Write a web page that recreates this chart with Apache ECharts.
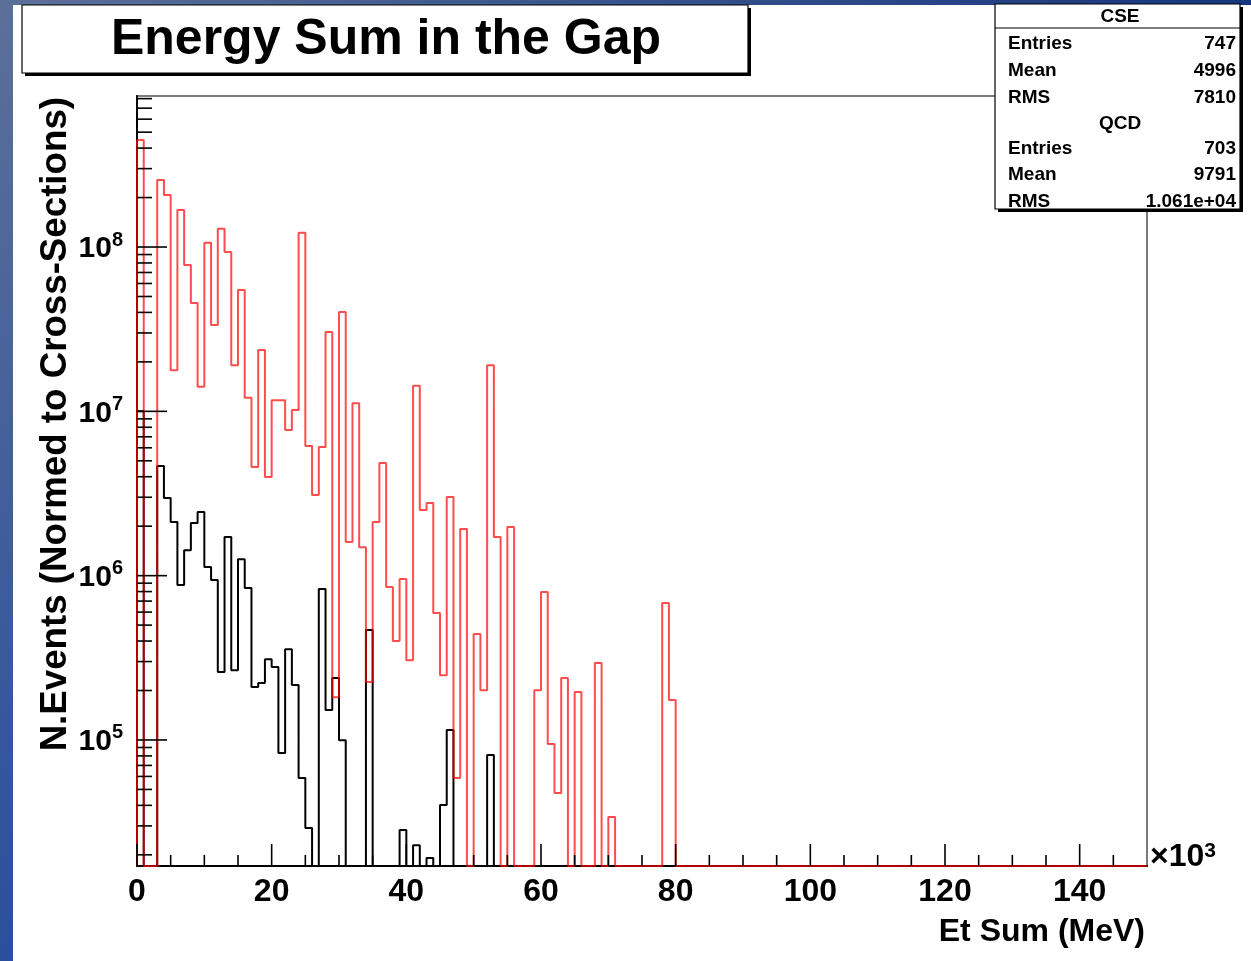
<!DOCTYPE html>
<html><head><meta charset="utf-8">
<script src="https://cdn.jsdelivr.net/npm/echarts@6/dist/echarts.min.js"></script>
<style>html,body{margin:0;padding:0;background:#fff;overflow:hidden}#c{width:1251px;height:961px}</style>
</head><body><div id="c"></div>
<script>
// ---------------- data ----------------
const nBins = 150;          // histogram bins, 1 bin = 1 (x10^3 MeV)
const binWidth = 1;
const yMin = 1.71e4, yMax = 8.3e8;
// bin contents (null = empty bin); bins beyond the arrays are empty
const cseValues = [
 4.48e8, null, null, 2.56e8, 2.07e8, 1.78e7, 1.68e8, 7.76e7, 4.56e7, 1.41e7,
 1.06e8, 3.35e7, 1.29e8, 9.33e7, 1.91e7, 5.47e7, 1.21e7, 4.58e6, 2.36e7, 3.98e6,
 1.17e7, 1.17e7, 7.69e6, 1.02e7, 1.22e8, 6.15e6, 3.10e6, 6.07e6, 3.04e7, 1.82e5,
 4.02e7, 1.60e6, 1.12e7, 1.49e6, 2.25e5, 2.12e6, 4.84e6, 8.53e5, 4.00e5, 9.53e5,
 3.06e5, 1.43e7, 2.51e6, 2.77e6, 5.92e5, 2.48e5, 3.01e6, 5.86e4, 1.92e6, null,
 4.41e5, 2.01e5, 1.91e7, 1.72e6, null, 1.98e6, null, null, null, 2.01e5,
 7.95e5, 9.45e4, 4.75e4, 2.38e5, null, 1.96e5, null, null, 2.94e5, null,
 3.40e4, null, null, null, null, null, null, null, 6.81e5, 1.75e5
];
const qcdValues = [
 1.0e7, null, null, 4.65e6, 2.97e6, 2.12e6, 8.77e5, 1.43e6, 2.09e6, 2.44e6,
 1.13e6, 9.40e5, 2.59e5, 1.72e6, 2.66e5, 1.26e6, 8.41e5, 2.10e5, 2.22e5, 3.10e5,
 2.78e5, 8.32e4, 3.57e5, 2.16e5, 5.86e4, 2.91e4, null, 8.29e5, 1.52e5, 2.38e5,
 9.97e4, null, null, null, 4.67e5, null, null, null, null, 2.83e4,
 null, 2.29e4, null, 1.91e4, null, 4.02e4, 1.15e5, null, null, null,
 null, null, 8.09e4
];
const xLabels = ['0','20','40','60','80','100','120','140'];
const xMajorTicks = [0,20,40,60,80,100,120,140];
const xMinorTicks = [5,10,15,25,30,35,45,50,55,65,70,75,85,90,95,105,110,115,125,130,135,145];
const yMajorTicks = [1e5,1e6,1e7,1e8];
const yMinorTicks = [2e4,3e4,4e4,5e4,6e4,7e4,8e4,9e4,
  2e5,3e5,4e5,5e5,6e5,7e5,8e5,9e5, 2e6,3e6,4e6,5e6,6e6,7e6,8e6,9e6,
  2e7,3e7,4e7,5e7,6e7,7e7,8e7,9e7, 2e8,3e8,4e8,5e8,6e8,7e8,8e8];
const titleText = 'Energy Sum in the Gap';
const xTitle = 'Et Sum (MeV)';
const yTitle = 'N.Events (Normed to Cross-Sections)';
const statRows = ['Entries','Mean','RMS'];
const cseStats = ['747','4996','7810'];
const qcdStats = ['703','9791','1.061e+04'];

// --------------- helpers ---------------
function stepPoints(vals){
  const pts = [[0, yMin]];
  for (let i = 0; i < nBins; i++) {
    let v = vals[i];
    if (v == null || v < yMin) v = yMin;
    pts.push([i*binWidth, v], [(i+1)*binWidth, v]);
  }
  pts.push([nBins*binWidth, yMin]);
  return pts;
}
const FONT = '"Liberation Sans", Arial, Helvetica, sans-serif';
function tickSeries(data, horizontal, len){
  return {
    type:'custom', coordinateSystem:'cartesian2d', silent:true, clip:false, z:5,
    data: data,
    renderItem(params, api){
      const p = api.coord([api.value(0), api.value(1)]);
      const shape = horizontal ? {x1:p[0], y1:p[1], x2:p[0]+len, y2:p[1]}
                               : {x1:p[0], y1:p[1], x2:p[0], y2:p[1]-len};
      return {type:'line', shape, style:{stroke:'#000', lineWidth:1.6}};
    }
  };
}

const chart = echarts.init(document.getElementById('c'), null, {renderer:'canvas'});
const L = 137, R = 1147, T = 96, B = 866;

// stats box graphics
const sx = 995, sy = 4, sw = 245, sh = 205;
const statsChildren = [
  {type:'rect', shape:{x:sx+3, y:sy+3, width:sw, height:sh}, style:{fill:'#000'}},
  {type:'rect', shape:{x:sx, y:sy, width:sw, height:sh}, style:{fill:'#fff', stroke:'#000', lineWidth:1.2}},
  {type:'line', shape:{x1:sx, y1:28, x2:sx+sw, y2:28}, style:{stroke:'#000', lineWidth:1.2}},
  {type:'text', x:1120, y:17, style:{text:'CSE', font:'bold 19px '+FONT, fill:'#000', align:'center', verticalAlign:'middle'}},
  {type:'text', x:1120, y:124, style:{text:'QCD', font:'bold 19px '+FONT, fill:'#000', align:'center', verticalAlign:'middle'}}
];
const rowY1 = [44,71,98], rowY2 = [149,175,202];
statRows.forEach((r,i)=>{
  statsChildren.push({type:'text', x:1008, y:rowY1[i], style:{text:r, font:'bold 19px '+FONT, fill:'#000', align:'left', verticalAlign:'middle'}});
  statsChildren.push({type:'text', x:1236, y:rowY1[i], style:{text:cseStats[i], font:'bold 19px '+FONT, fill:'#000', align:'right', verticalAlign:'middle'}});
  statsChildren.push({type:'text', x:1008, y:rowY2[i], style:{text:r, font:'bold 19px '+FONT, fill:'#000', align:'left', verticalAlign:'middle'}});
  statsChildren.push({type:'text', x:1236, y:rowY2[i], style:{text:qcdStats[i], font:'bold 19px '+FONT, fill:'#000', align:'right', verticalAlign:'middle'}});
});

const option = {
  backgroundColor:'#fff',
  animation:false,
  grid:{left:L, top:T, width:R-L, height:B-T, show:true, borderColor:'#7a7a7a', borderWidth:2, backgroundColor:'transparent'},
  xAxis:{
    type:'value', min:0, max:nBins*binWidth, interval:20,
    axisLine:{show:true, onZero:false, lineStyle:{color:'#000', width:2}},
    axisTick:{show:false}, splitLine:{show:false},
    axisLabel:{margin:10, color:'#000', fontSize:32, fontWeight:'bold', fontFamily:FONT,
      showMaxLabel:false,
      formatter:v=>{const i = xMajorTicks.indexOf(v); return i>=0 ? xLabels[i] : '';}}
  },
  yAxis:{
    type:'log', logBase:10, min:yMin, max:yMax,
    axisLine:{show:true, lineStyle:{color:'#000', width:2}},
    axisTick:{show:false}, splitLine:{show:false},
    axisLabel:{margin:14, color:'#000', showMinLabel:false, showMaxLabel:false,
      formatter:v=>{
        const e = Math.round(Math.log10(v));
        if (Math.abs(Math.log10(v)-e) > 1e-6) return '';
        return '{b|10}{s|'+e+'}';
      },
      rich:{
        b:{fontSize:30, fontWeight:'bold', fontFamily:FONT, color:'#000', verticalAlign:'bottom', lineHeight:34},
        s:{fontSize:20, fontWeight:'bold', fontFamily:FONT, color:'#000', verticalAlign:'top', lineHeight:34, padding:[0,0,12,0]}
      }
    }
  },
  graphic:[
    // blue surround
    {type:'rect', z:-10, shape:{x:0, y:0, width:1251, height:5},
     style:{fill:new echarts.graphic.LinearGradient(0,0,1,0,[{offset:0,color:'#5b7099'},{offset:1,color:'#15367f'}])}},
    {type:'rect', z:-10, shape:{x:0, y:0, width:13, height:961},
     style:{fill:new echarts.graphic.LinearGradient(0,0,0,1,[{offset:0,color:'#5b7099'},{offset:1,color:'#2a4f9c'}])}},
    // title box
    {type:'rect', shape:{x:25, y:8, width:726, height:68}, style:{fill:'#000'}},
    {type:'rect', shape:{x:22, y:5, width:726, height:68}, style:{fill:'#fff', stroke:'#000', lineWidth:1.2}},
    {type:'text', x:386, y:40, style:{text:titleText, font:'bold 50px '+FONT, fill:'#000', align:'center', verticalAlign:'middle'}},
    // stats
    {type:'group', z:100, children:statsChildren},
    // axis titles
    {type:'text', x:1145, y:932, style:{text:xTitle, font:'bold 32px '+FONT, fill:'#000', align:'right', verticalAlign:'middle'}},
    {type:'text', x:56, y:97, rotation:Math.PI/2, style:{text:yTitle, font:'bold 36.7px '+FONT, fill:'#000', align:'right', verticalAlign:'middle'}},
    {type:'text', x:1150, y:857, style:{rich:{a:{font:'bold 32px '+FONT, fill:'#000'}, s:{font:'bold 21px '+FONT, fill:'#000', verticalAlign:'top', padding:[0,0,12,0]}}, text:'{a|×10}{s|3}', verticalAlign:'middle', align:'left'}}
  ],
  series:[
    {type:'line', name:'QCD', data:stepPoints(qcdValues), showSymbol:false, symbol:'none', clip:true, z:3,
     lineStyle:{color:'#000', width:2}},
    {type:'line', name:'CSE', data:stepPoints(cseValues), showSymbol:false, symbol:'none', clip:true, z:4,
     lineStyle:{color:'#ff0000', width:2, opacity:0.7}},
    tickSeries(xMajorTicks.map(v=>[v,yMin]), false, 22),
    tickSeries(xMinorTicks.map(v=>[v,yMin]), false, 11),
    tickSeries(yMajorTicks.map(v=>[0,v]), true, 30),
    tickSeries(yMinorTicks.map(v=>[0,v]), true, 15)
  ]
};
chart.setOption(option);
</script></body></html>
